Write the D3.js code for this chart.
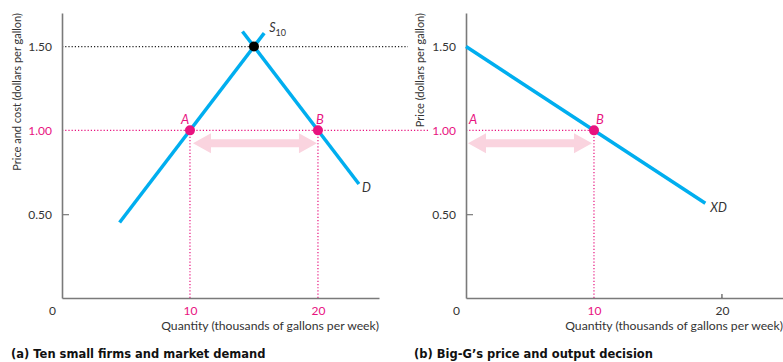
<!DOCTYPE html>
<html><head><meta charset="utf-8">
<script src="https://cdn.jsdelivr.net/npm/d3@7"></script>
<style>
body{margin:0;background:#fff;}
</style></head>
<body><svg id="c" width="783" height="362" style="font-family:Lato,'Open Sans',sans-serif"></svg>
<script>
// ---- data ----
const yTicks = [0.5, 1.0, 1.5];
const yTickLabels = ["0.50", "1.00", "1.50"];
const xTicks = [0, 10, 20];
const xTickLabels = ["0", "10", "20"];
const supplyQ = [4.5, 15.8], supplyP = [0.45, 1.58];   // S10
const demandQ = [14.1, 23.2], demandP = [1.59, 0.68];  // D
const xdQ = [0, 18.7], xdP = [1.5, 0.565];             // XD
const pointsA = [{q:10,p:1.0,label:"A"},{q:20,p:1.0,label:"B"}];
const eqA = {q:15,p:1.5};
const pointsB = [{q:0,p:1.0,label:"A"},{q:10,p:1.0,label:"B"}];
const yTitleA = "Price and cost (dollars per gallon)";
const yTitleB = "Price (dollars per gallon)";
const xTitle = "Quantity (thousands of gallons per week)";
const captionA = "(a) Ten small firms and market demand";
const captionB = "(b) Big-G\u2019s price and output decision";

const BLUE = "#00aeef", PINK = "#e8137f", ARROW = "#fad4df", AX = "#7a7a7a";
const svg = d3.select("#c");
const y = d3.scaleLinear().domain([0, 1.7]).range([298, 13]);
const xa = d3.scaleLinear().domain([0, 24.77]).range([62, 379]);
const xb = d3.scaleLinear().domain([0, 24.77]).range([466, 783]);
const line = (x, qs, ps) => d3.line().x(d => x(d[0])).y(d => y(d[1]))(qs.map((q,i)=>[q, ps[i]]));

function dotted(x1,y1,x2,y2,color){
  svg.append("line").attr("x1",x1).attr("y1",y1).attr("x2",x2).attr("y2",y2)
    .attr("stroke",color).attr("stroke-width",1.2).attr("stroke-dasharray","1.2,2");
}
function dblArrow(x1,x2,yy){
  const hl=18, hh=10, bh=4;
  const p = [[x1,yy],[x1+hl,yy-hh],[x1+hl,yy-bh],[x2-hl,yy-bh],[x2-hl,yy-hh],[x2,yy],
             [x2-hl,yy+hh],[x2-hl,yy+bh],[x1+hl,yy+bh],[x1+hl,yy+hh]];
  svg.append("path").attr("d","M"+p.map(d=>d.join(",")).join("L")+"Z").attr("fill",ARROW);
}
function panel(x, opts){
  dotted(x(0), y(1.0), opts.pinkEnd, y(1.0), PINK);
  opts.vlines.forEach(q => dotted(x(q), y(1.0), x(q), y(0), PINK));
  const ya = d3.axisLeft(y).tickValues(yTicks).tickSizeInner(-7).tickSizeOuter(0).tickPadding(10)
      .tickFormat((d,i)=>yTickLabels[i]);
  const gy = svg.append("g").attr("transform",`translate(${x(0)},0)`).call(ya);
  const xaG = d3.axisBottom(x).tickValues(xTicks).tickSize(0).tickPadding(8)
      .tickFormat((d,i)=>xTickLabels[i]);
  const gx = svg.append("g").attr("transform",`translate(0,${y(0)})`).call(xaG);
  [gy,gx].forEach(g=>{
    g.attr("font-family",null).attr("font-size",null);
    g.select(".domain").attr("stroke",AX).attr("stroke-width",1.6);
    g.selectAll("text").style("font-size","12px").attr("fill","#333").style("font-family","Lato");
  });
  gy.selectAll(".tick line").attr("stroke",AX).attr("stroke-width",1.2)
    .attr("opacity",d=>d===0.5?1:0);
  gy.selectAll(".tick text").attr("fill",d=>d===1.0?PINK:"#333");
  gx.selectAll(".tick text").attr("fill",d=>d===10?PINK:(d===20&&opts.pink20?PINK:"#333"))
    .attr("dx",d=>d===0?-10:0);
  gx.selectAll(".tick line").remove();
  if(opts.tick20){
    svg.append("line").attr("x1",x(20)).attr("x2",x(20)).attr("y1",y(0)).attr("y2",y(0)-4)
      .attr("stroke","#333").attr("stroke-width",1);
  }
  svg.append("text").attr("x",x.range()[1]).attr("y",330).attr("text-anchor","end")
    .style("font-size","12.2px").attr("fill","#333").text(xTitle);
  svg.append("text").attr("transform",`translate(${opts.yTitleX},13) rotate(-90)`)
    .attr("text-anchor","end").style("font-size","11px").attr("fill","#333").text(opts.yTitle);
  svg.append("text").attr("x",opts.capX).attr("y",358).style("font-family","'DejaVu Sans'")
    .style("font-weight","bold").style("font-size","11.5px").attr("fill","#111").text(opts.caption);
}

// Panel (a)
svg.append("line").attr("x1",xa(0)).attr("x2",408).attr("y1",y(1.5)).attr("y2",y(1.5))
  .attr("stroke","#222").attr("stroke-width",1.2).attr("stroke-dasharray","1.2,2");
panel(xa, {pinkEnd:428, vlines:[10,20], yTitle:yTitleA, yTitleX:21, caption:captionA, capX:11, pink20:true});
dblArrow(xa(10)+3, xa(20)-1, y(1.0)+13);
svg.append("path").attr("d",line(xa,supplyQ,supplyP)).attr("stroke",BLUE).attr("stroke-width",3.5).attr("fill","none");
svg.append("path").attr("d",line(xa,demandQ,demandP)).attr("stroke",BLUE).attr("stroke-width",3.5).attr("fill","none");
svg.append("circle").attr("cx",xa(eqA.q)).attr("cy",y(eqA.p)).attr("r",5).attr("fill","#000");
pointsA.forEach(d=>{
  svg.append("circle").attr("cx",xa(d.q)).attr("cy",y(d.p)).attr("r",5).attr("fill",PINK);
  svg.append("text").attr("x",xa(d.q)+(d.label==="A"?-9:-2)).attr("y",y(d.p)-6)
    .style("font-size","13px").style("font-style","italic").attr("fill",PINK).text(d.label);
});
const s10 = svg.append("text").attr("x",xa(supplyQ[1])+5).attr("y",y(supplyP[1])-1)
  .style("font-size","12.5px").style("font-style","italic").attr("fill","#333");
s10.append("tspan").text("S");
s10.append("tspan").attr("dy",4).style("font-size","9px").style("font-style","normal").text("10");
svg.append("text").attr("x",xa(demandQ[1])+3).attr("y",y(demandP[1])+8)
  .style("font-size","12.5px").style("font-style","italic").attr("fill","#333").text("D");

// Panel (b)
panel(xb, {pinkEnd:xb(10), vlines:[10], yTitle:yTitleB, yTitleX:424, caption:captionB, capX:414, tick20:true});
dblArrow(xb(0)+2, xb(10)-2, y(1.0)+13);
svg.append("path").attr("d",line(xb,xdQ,xdP)).attr("stroke",BLUE).attr("stroke-width",3.5).attr("fill","none");
pointsB.forEach(d=>{
  if(d.q>0) svg.append("circle").attr("cx",xb(d.q)).attr("cy",y(d.p)).attr("r",5).attr("fill",PINK);
  svg.append("text").attr("x",xb(d.q)+(d.q===0?3:2)).attr("y",y(d.p)-6)
    .style("font-size","13px").style("font-style","italic").attr("fill",PINK).text(d.label);
});
svg.append("text").attr("x",xb(xdQ[1])+5).attr("y",y(xdP[1])+9)
  .style("font-size","12.5px").style("font-style","italic").attr("fill","#333").text("XD");
</script></body></html>
